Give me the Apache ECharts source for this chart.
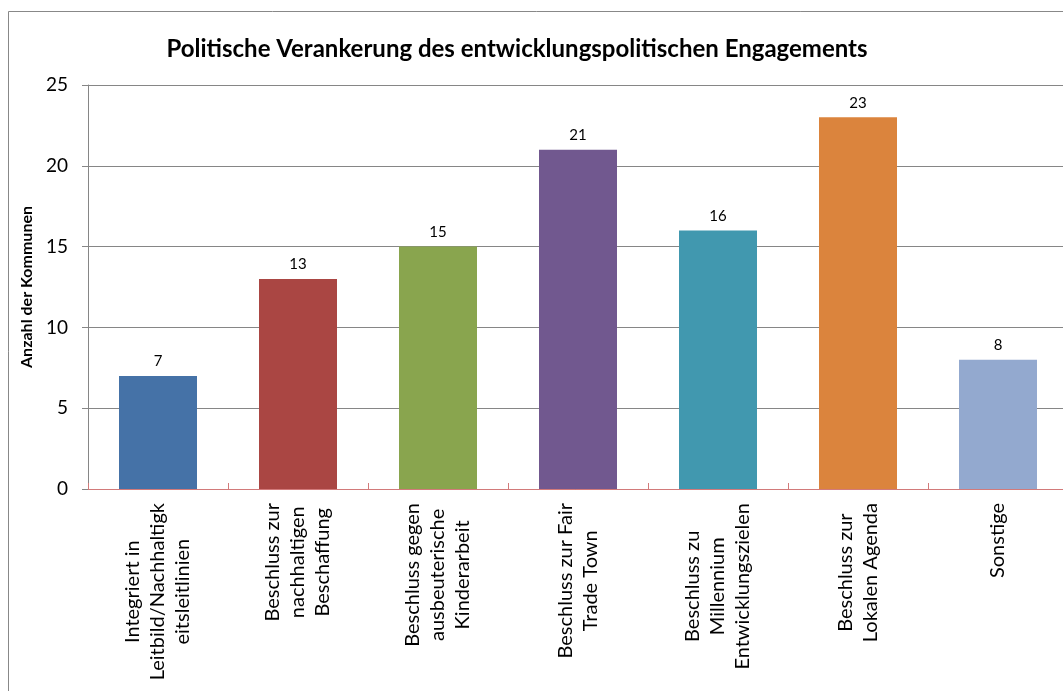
<!DOCTYPE html>
<html>
<head>
<meta charset="utf-8">
<script src="https://cdn.jsdelivr.net/npm/echarts@6/dist/echarts.min.js"></script>
<style>
  html, body { margin: 0; padding: 0; background: #fff; }
  #chart { width: 1063px; height: 691px; }
</style>
</head>
<body>
<div id="chart"></div>
<script>
const categories = [
  'Integriert in\nLeitbild/Nachhaltigk\neitsleitlinien',
  'Beschluss zur\nnachhaltigen\nBeschaffung',
  'Beschluss gegen\nausbeuterische\nKinderarbeit',
  'Beschluss zur Fair\nTrade Town',
  'Beschluss zu\nMillennium\nEntwicklungszielen',
  'Beschluss zur\nLokalen Agenda',
  'Sonstige'
];
const counts = [7, 13, 15, 21, 16, 23, 8];
const barColors = ['#4572A7', '#AA4643', '#89A54E', '#71588F', '#4198AF', '#DB843D', '#93A9CF'];

const font = 'Lato, "Open Sans", sans-serif';

const chart = echarts.init(document.getElementById('chart'));

chart.setOption({
  backgroundColor: '#fff',
  animation: false,
  title: {
    text: 'Politische Verankerung des entwicklungspolitischen Engagements',
    left: 512,
    top: 32,
    textAlign: 'center',
    textStyle: { fontFamily: font, fontSize: 24, fontWeight: 'bold', color: '#000' }
  },
  graphic: [{
    type: 'rect',
    shape: { x: 8.5, y: 11.5, width: 1100, height: 700 },
    style: { fill: 'none', stroke: '#888', lineWidth: 1 }
  }],
  grid: { left: 88, top: 85, height: 404, width: 980, outerBoundsMode: 'none' },
  xAxis: {
    type: 'category',
    data: categories,
    axisLine: { lineStyle: { color: '#d27a7a', width: 1 } },
    axisTick: { show: true, inside: true, length: 6, lineStyle: { color: '#d27a7a' } },
    axisLabel: {
      rotate: 90,
      interval: 0,
      margin: 14,
      fontFamily: font,
      fontSize: 20,
      color: '#000',
      lineHeight: 25,
      formatter: v => v.split('\n').map(s => '{c|' + s + '}').join('\n'),
      rich: { c: { align: 'center', fontFamily: font, fontSize: 20, color: '#000', lineHeight: 25 } }
    }
  },
  yAxis: {
    type: 'value',
    min: 0,
    max: 25,
    interval: 5,
    name: 'Anzahl der Kommunen',
    nameLocation: 'middle',
    nameGap: 44,
    nameTextStyle: { fontFamily: font, fontSize: 16, fontWeight: 'bold', color: '#000' },
    axisLine: { show: true, lineStyle: { color: '#868686' } },
    axisTick: { show: true, length: 6, lineStyle: { color: '#868686' } },
    axisLabel: { margin: 20, fontFamily: font, fontSize: 19, color: '#000' },
    splitLine: { lineStyle: { color: '#868686', width: 1 } }
  },
  series: [{
    type: 'bar',
    data: counts.map((v, i) => ({ value: v, itemStyle: { color: barColors[i] } })),
    barWidth: 78,
    label: {
      show: true,
      position: 'top',
      distance: 7,
      fontFamily: font,
      fontSize: 15,
      color: '#000'
    }
  }]
});
</script>
</body>
</html>
